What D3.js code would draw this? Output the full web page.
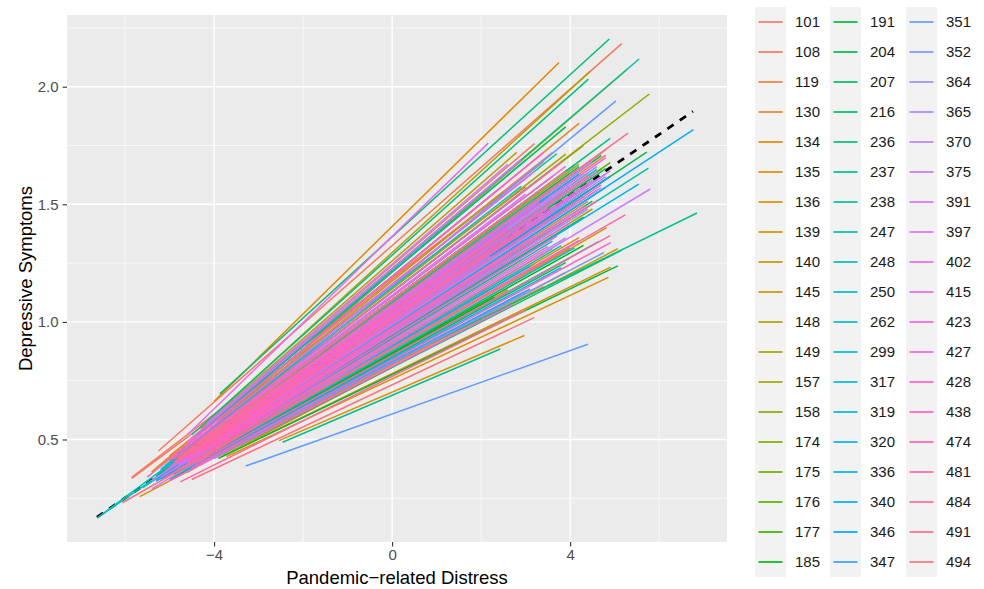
<!DOCTYPE html>
<html>
<head>
<meta charset="utf-8">
<script src="https://cdn.jsdelivr.net/npm/d3@7"></script>
<style>
  body { margin: 0; background: #fff; }
  text { font-family: "Liberation Sans", Arial, Helvetica, sans-serif; }
</style>
</head>
<body>
<svg width="984" height="589"></svg>
<script>
var svg = d3.select('svg');

// subject ids (legend order)
var subjects = [101, 108, 119, 130, 134, 135, 136, 139, 140, 145, 148, 149, 157, 158, 174, 175, 176, 177, 185,
  191, 204, 207, 216, 236, 237, 238, 247, 248, 250, 262, 299, 317, 319, 320, 336, 340, 346, 347,
  351, 352, 364, 365, 370, 375, 391, 397, 402, 415, 423, 427, 428, 438, 474, 481, 484, 491, 494];

// fitted lines: [subject, x start, x end, y start, y end]
var subjectLines = [
  [216, -3.87, 4.88, 0.694, 2.203], [134, -4.0, 3.75, 0.662, 2.103], [108, -5.25, 5.16, 0.451, 2.183],
  [238, -4.9, 5.55, 0.43, 2.118], [149, -4.6, 5.27, 0.46, 2.072], [145, -4.3, 4.45, 0.55, 2.065],
  [236, -4.5, 4.41, 0.52, 2.032], [158, -5.0, 5.78, 0.40, 1.969], [351, -4.7, 5.03, 0.42, 1.94],
  [340, -5.2, 6.77, 0.33, 1.817], [491, -4.9, 5.30, 0.40, 1.803], [204, -5.3, 5.72, 0.33, 1.722],
  [247, -5.1, 5.76, 0.34, 1.654], [336, -4.9, 5.54, 0.36, 1.586], [375, -5.4, 5.80, 0.29, 1.565],
  [237, -4.2, 6.85, 0.44, 1.463], [481, -4.8, 5.24, 0.37, 1.455], [139, -4.6, 4.82, 0.36, 1.401],
  [474, -4.4, 4.90, 0.40, 1.367], [438, -4.5, 4.91, 0.38, 1.337], [236, -5.0, 4.65, 0.33, 1.342],
  [140, -3.9, 5.07, 0.42, 1.311], [207, -4.0, 5.16, 0.42, 1.305], [352, -4.3, 4.76, 0.40, 1.295],
  [191, -3.9, 5.07, 0.42, 1.238], [135, -3.8, 4.91, 0.43, 1.233], [136, -3.72, 4.86, 0.427, 1.189],
  [494, -4.5, 3.19, 0.33, 1.018], [135, -2.54, 2.97, 0.495, 0.942], [237, -2.46, 2.43, 0.488, 0.885],
  [351, -3.29, 4.40, 0.387, 0.905], [402, -4.6, 2.16, 0.52, 1.76], [134, -5.67, 3.9, 0.257, 1.21],
  [484, -4.76, 3.0, 0.32, 1.05],
  [101, -5.0, 3.6, 0.43, 1.72], [101, -4.4, 2.4, 0.434, 1.25], [108, -5.85, 3.4, 0.339, 1.68],
  [108, -4.1, 2.9, 0.49, 1.386], [119, -4.6, 3.9, 0.444, 1.609], [119, -3.8, 2.2, 0.478, 1.138],
  [130, -5.2, 4.2, 0.387, 1.844], [130, -4.3, 3.0, 0.441, 1.303], [134, -4.8, 3.3, 0.422, 1.556],
  [134, -3.9, 2.6, 0.454, 1.136], [135, -5.0, 3.8, 0.381, 1.543], [136, -4.4, 4.1, 0.445, 1.508],
  [136, -5.4, 2.0, 0.362, 1.546], [139, -4.2, 3.5, 0.494, 1.534], [140, -4.9, 3.1, 0.37, 1.315],
  [140, -3.6, 4.3, 0.605, 1.75], [145, -4.7, 2.8, 0.398, 1.298], [145, -5.3, 4.0, 0.349, 1.633],
  [148, -4.5, 3.7, 0.443, 1.509], [148, -3.9, 2.5, 0.58, 1.553], [149, -4.3, 3.2, 0.423, 1.248],
  [157, -5.1, 3.9, 0.39, 1.713], [157, -4.0, 2.7, 0.495, 1.333], [158, -4.6, 4.4, 0.436, 1.633],
  [174, -5.0, 3.4, 0.362, 1.37], [174, -4.2, 2.1, 0.554, 1.562], [175, -4.8, 3.6, 0.426, 1.618],
  [176, -4.4, 2.9, 0.423, 1.263], [176, -5.5, 4.5, 0.313, 1.613], [177, -3.7, 3.1, 0.576, 1.528],
  [185, -4.6, 3.8, 0.42, 1.47], [185, -4.0, 2.3, 0.443, 1.105], [191, -5.2, 4.1, 0.366, 1.668],
  [204, -4.5, 3.0, 0.422, 1.322], [204, -3.8, 3.9, 0.612, 1.829], [207, -4.7, 3.4, 0.427, 1.52],
  [216, -5.0, 2.6, 0.349, 1.2], [216, -4.3, 4.2, 0.487, 1.66], [236, -4.9, 3.3, 0.388, 1.437],
  [237, -4.1, 3.7, 0.545, 1.715], [238, -4.6, 2.8, 0.406, 1.279], [247, -5.3, 3.5, 0.346, 1.534],
  [248, -4.4, 4.0, 0.449, 1.516], [248, -6.63, 2.2, 0.166, 1.402], [250, -6.5, 3.0, 0.183, 1.418],
  [250, -4.0, 3.6, 0.469, 1.343], [262, -4.8, 2.9, 0.436, 1.576], [262, -5.6, 4.3, 0.295, 1.533],
  [299, -4.5, 3.2, 0.46, 1.522], [317, -5.0, 3.8, 0.362, 1.418], [317, -4.2, 2.4, 0.542, 1.565],
  [319, -4.7, 4.0, 0.421, 1.569], [320, -4.3, 3.1, 0.423, 1.237], [320, -5.2, 3.6, 0.373, 1.649],
  [336, -4.6, 2.7, 0.42, 1.333], [340, -4.9, 4.2, 0.40, 1.628], [340, -3.9, 3.0, 0.44, 1.13],
  [346, -4.4, 3.4, 0.478, 1.57], [346, -5.3, 2.5, 0.323, 1.244], [347, -4.7, 3.9, 0.413, 1.514],
  [352, -4.1, 3.3, 0.465, 1.338], [364, -4.8, 3.6, 0.422, 1.598], [364, -4.4, 2.2, 0.447, 1.279],
  [365, -5.0, 4.0, 0.383, 1.58], [370, -4.5, 3.2, 0.485, 1.64], [370, -3.8, 2.6, 0.506, 1.274],
  [375, -4.9, 3.5, 0.403, 1.554], [391, -4.3, 3.0, 0.499, 1.543], [391, -5.4, 4.1, 0.324, 1.54],
  [397, -4.6, 2.9, 0.49, 1.69], [397, -3.9, 3.7, 0.508, 1.458], [402, -4.8, 3.3, 0.413, 1.507],
  [415, -4.5, 3.9, 0.468, 1.661], [415, -5.2, 2.4, 0.338, 1.25], [423, -4.4, 3.5, 0.456, 1.483],
  [427, -5.0, 3.1, 0.41, 1.625], [427, -4.0, 4.0, 0.477, 1.421], [428, -4.7, 2.8, 0.436, 1.486],
  [438, -4.3, 3.6, 0.462, 1.465], [438, -5.5, 2.3, 0.34, 1.55], [474, -4.6, 3.2, 0.414, 1.366],
  [481, -4.9, 3.8, 0.417, 1.678], [484, -4.2, 2.6, 0.489, 1.394], [484, -5.1, 3.4, 0.338, 1.29],
  [491, -4.5, 3.0, 0.439, 1.399], [494, -6.06, 3.5, 0.231, 1.264], [494, -4.8, 3.9, 0.422, 1.64],
  [101, -5.85, 3.0, 0.335, 1.574], [119, -4.4, 3.4, 0.386, 1.15], [158, -4.9, 2.9, 0.34, 1.12],
  [320, -3.6, 3.8, 0.476, 1.231], [423, -5.0, 2.7, 0.325, 1.072], [175, -4.2, 4.0, 0.42, 1.272],
  [347, -4.6, 3.1, 0.37, 1.14],
  [101, -4.7, 4.6, 0.413, 1.604], [119, -5.1, 4.8, 0.373, 1.709], [130, -4.5, 4.4, 0.426, 1.512],
  [139, -4.9, 4.7, 0.393, 1.65], [145, -4.4, 4.5, 0.43, 1.48], [148, -5.0, 4.9, 0.372, 1.619],
  [157, -4.6, 4.2, 0.448, 1.671], [174, -4.8, 4.6, 0.393, 1.559], [176, -4.3, 4.9, 0.471, 1.677],
  [177, -5.2, 4.4, 0.348, 1.567], [191, -4.5, 4.7, 0.456, 1.707], [204, -4.7, 4.3, 0.392, 1.445],
  [207, -5.0, 4.8, 0.378, 1.652], [216, -4.4, 4.5, 0.436, 1.513], [236, -4.6, 4.9, 0.45, 1.78],
  [238, -5.1, 4.2, 0.358, 1.52], [247, -4.5, 4.6, 0.447, 1.648], [262, -4.7, 4.8, 0.413, 1.629],
  [299, -4.9, 4.4, 0.374, 1.49], [299, -4.2, 4.7, 0.499, 1.718], [317, -4.6, 4.5, 0.428, 1.602],
  [319, -5.3, 4.8, 0.33, 1.572], [336, -4.4, 4.3, 0.465, 1.631], [346, -4.8, 4.9, 0.397, 1.619],
  [352, -4.5, 4.6, 0.449, 1.66], [364, -4.9, 4.4, 0.372, 1.479], [365, -4.3, 4.8, 0.462, 1.618],
  [375, -4.6, 4.5, 0.442, 1.68], [391, -4.8, 4.7, 0.393, 1.571], [397, -5.0, 4.6, 0.38, 1.637],
  [402, -4.4, 4.9, 0.452, 1.642], [415, -4.7, 4.3, 0.40, 1.489], [423, -4.5, 4.8, 0.451, 1.698],
  [428, -5.1, 4.5, 0.364, 1.602], [438, -4.6, 4.7, 0.42, 1.583], [474, -4.8, 4.4, 0.408, 1.622],
  [481, -4.3, 4.6, 0.446, 1.514], [491, -4.9, 4.8, 0.403, 1.732],
  [130, -4.6, 4.0, 0.386, 1.315], [157, -4.2, 3.6, 0.439, 1.312], [185, -4.9, 4.3, 0.35, 1.325],
  [248, -4.4, 3.8, 0.414, 1.324], [319, -4.0, 4.1, 0.448, 1.315], [365, -4.8, 3.9, 0.373, 1.357],
  [402, -4.5, 4.2, 0.399, 1.347], [474, -4.1, 3.5, 0.455, 1.321], [207, -4.3, 3.9, 0.407, 1.252],
  [428, -4.6, 3.7, 0.402, 1.365], [139, -4.4, 4.2, 0.412, 1.358], [262, -4.7, 3.4, 0.368, 1.21],
  [108, -4.3, 3.2, 0.543, 1.758], [145, -4.0, 2.8, 0.599, 1.721], [237, -4.4, 3.0, 0.518, 1.687],
  [375, -4.2, 2.6, 0.561, 1.67], [427, -4.6, 3.4, 0.48, 1.72], [340, -4.1, 2.9, 0.57, 1.69]
];

// average (fixed effect) line
var meanLine = [[-6.63, 0.17], [6.76, 1.895]];

var xTicks = [-4, 0, 4];
var xMinor = [-6, -2, 2, 6];
var yTicks = [0.5, 1.0, 1.5, 2.0];
var yMinor = [0.25, 0.75, 1.25, 1.75, 2.25];

// ggplot style hue palette: hcl(h, 100, 65) in polar Luv
function hclLuv(h, c, l) {
  var hr = h * Math.PI / 180, u = c * Math.cos(hr), v = c * Math.sin(hr);
  var Xn = 95.047, Yn = 100, Zn = 108.883;
  var den = Xn + 15 * Yn + 3 * Zn, un = 4 * Xn / den, vn = 9 * Yn / den;
  var Y = Yn * Math.pow((l + 16) / 116, 3);
  var up = u / (13 * l) + un, vp = v / (13 * l) + vn;
  var X = Y * 9 * up / (4 * vp), Z = Y * (12 - 3 * up - 20 * vp) / (4 * vp);
  X /= 100; Y /= 100; Z /= 100;
  var rgb = [3.2404542 * X - 1.5371385 * Y - 0.4985314 * Z,
    -0.9692660 * X + 1.8760108 * Y + 0.0415560 * Z,
    0.0556434 * X - 0.2040259 * Y + 1.0572252 * Z].map(function(t) {
      t = t <= 0.0031308 ? 12.92 * t : 1.055 * Math.pow(t, 1 / 2.4) - 0.055;
      return Math.round(255 * Math.max(0, Math.min(1, t)));
    });
  return d3.rgb(rgb[0], rgb[1], rgb[2]).formatHex();
}

var color = d3.scaleOrdinal()
  .domain(subjects)
  .range(subjects.map(function(d, i) { return hclLuv(15 + 360 * i / subjects.length, 100, 65); }));

// panel box
var panelLeft = 67, panelRight = 727, panelTop = 15, panelBottom = 542;

var allX = [], allY = [];
subjectLines.forEach(function(d) { allX.push(d[1], d[2]); allY.push(d[3], d[4]); });
meanLine.forEach(function(d) { allX.push(d[0]); allY.push(d[1]); });
var xe = d3.extent(allX), ye = d3.extent(allY);
var xpad = (xe[1] - xe[0]) * 0.05, ypad = (ye[1] - ye[0]) * 0.05;

var x = d3.scaleLinear().domain([xe[0] - xpad, xe[1] + xpad]).range([panelLeft, panelRight]);
var y = d3.scaleLinear().domain([ye[0] - ypad, ye[1] + ypad]).range([panelBottom, panelTop]);

svg.append('rect')
  .attr('x', panelLeft).attr('y', panelTop)
  .attr('width', panelRight - panelLeft).attr('height', panelBottom - panelTop)
  .attr('fill', '#EBEBEB');

var grid = svg.append('g');
grid.selectAll('.xminor').data(xMinor).enter().append('line')
  .attr('x1', function(d) { return x(d); }).attr('x2', function(d) { return x(d); })
  .attr('y1', panelTop).attr('y2', panelBottom)
  .attr('stroke', '#fff').attr('stroke-width', 0.7);
grid.selectAll('.yminor').data(yMinor).enter().append('line')
  .attr('y1', function(d) { return y(d); }).attr('y2', function(d) { return y(d); })
  .attr('x1', panelLeft).attr('x2', panelRight)
  .attr('stroke', '#fff').attr('stroke-width', 0.7);
grid.selectAll('.xmajor').data(xTicks).enter().append('line')
  .attr('x1', function(d) { return x(d); }).attr('x2', function(d) { return x(d); })
  .attr('y1', panelTop).attr('y2', panelBottom)
  .attr('stroke', '#fff').attr('stroke-width', 1.4);
grid.selectAll('.ymajor').data(yTicks).enter().append('line')
  .attr('y1', function(d) { return y(d); }).attr('y2', function(d) { return y(d); })
  .attr('x1', panelLeft).attr('x2', panelRight)
  .attr('stroke', '#fff').attr('stroke-width', 1.4);

// dashed mean line sits under the subject lines
svg.append('path')
  .datum(meanLine)
  .attr('d', d3.line().x(function(d) { return x(d[0]); }).y(function(d) { return y(d[1]); }))
  .attr('fill', 'none')
  .attr('stroke', '#000')
  .attr('stroke-width', 2.8)
  .attr('stroke-dasharray', '7.5,7.5');

var order = subjectLines.slice().sort(function(a, b) {
  return subjects.indexOf(a[0]) - subjects.indexOf(b[0]);
});

svg.append('g').selectAll('line')
  .data(order)
  .enter()
  .append('line')
  .attr('x1', function(d) { return x(d[1]); })
  .attr('x2', function(d) { return x(d[2]); })
  .attr('y1', function(d) { return y(d[3]); })
  .attr('y2', function(d) { return y(d[4]); })
  .attr('stroke', function(d) { return color(d[0]); })
  .attr('stroke-width', 1.5)
  .attr('stroke-linecap', 'butt');

// axes
var xAxis = svg.append('g')
  .attr('transform', 'translate(0,' + panelBottom + ')')
  .call(d3.axisBottom(x).tickValues(xTicks).tickSize(4.4).tickPadding(3)
    .tickFormat(function(d) { return d < 0 ? '\u2212' + Math.abs(d) : d; }));
var yAxis = svg.append('g')
  .attr('transform', 'translate(' + panelLeft + ',0)')
  .call(d3.axisLeft(y).tickValues(yTicks).tickSize(4.4).tickPadding(4).tickFormat(d3.format('.1f')));

[xAxis, yAxis].forEach(function(a) {
  a.select('.domain').remove();
  a.selectAll('.tick line').attr('stroke', '#333333').attr('stroke-width', 1.1);
  a.selectAll('.tick text').attr('fill', '#4D4D4D').style('font-size', '15px')
    .style('font-family', '"Liberation Sans", Arial, sans-serif');
});

svg.append('text')
  .attr('x', (panelLeft + panelRight) / 2).attr('y', 584)
  .attr('text-anchor', 'middle')
  .style('font-size', '18.5px')
  .text('Pandemic\u2212related Distress');

svg.append('text')
  .attr('transform', 'translate(31.5,' + (panelTop + panelBottom) / 2 + ') rotate(-90)')
  .attr('text-anchor', 'middle')
  .style('font-size', '18.5px')
  .text('Depressive Symptoms');

// legend: 3 columns of 19
var colX = [755, 830, 906];
var rows = 19, rowH = 30, legTop = 7;
var legend = svg.append('g');
var keys = legend.selectAll('g')
  .data(subjects)
  .enter()
  .append('g')
  .attr('transform', function(d, i) {
    return 'translate(' + colX[Math.floor(i / rows)] + ',' + (legTop + (i % rows) * rowH) + ')';
  });
keys.append('rect')
  .attr('width', 31).attr('height', rowH)
  .attr('fill', '#F2F2F2');
keys.append('line')
  .attr('x1', 3.5).attr('x2', 27.5)
  .attr('y1', rowH / 2).attr('y2', rowH / 2)
  .attr('stroke', function(d) { return color(d); })
  .attr('stroke-width', 1.7);
keys.append('text')
  .attr('x', 40).attr('y', rowH / 2)
  .attr('dy', '0.36em')
  .style('font-size', '15px')
  .attr('fill', '#1a1a1a')
  .text(function(d) { return d; });
</script>
</body>
</html>
